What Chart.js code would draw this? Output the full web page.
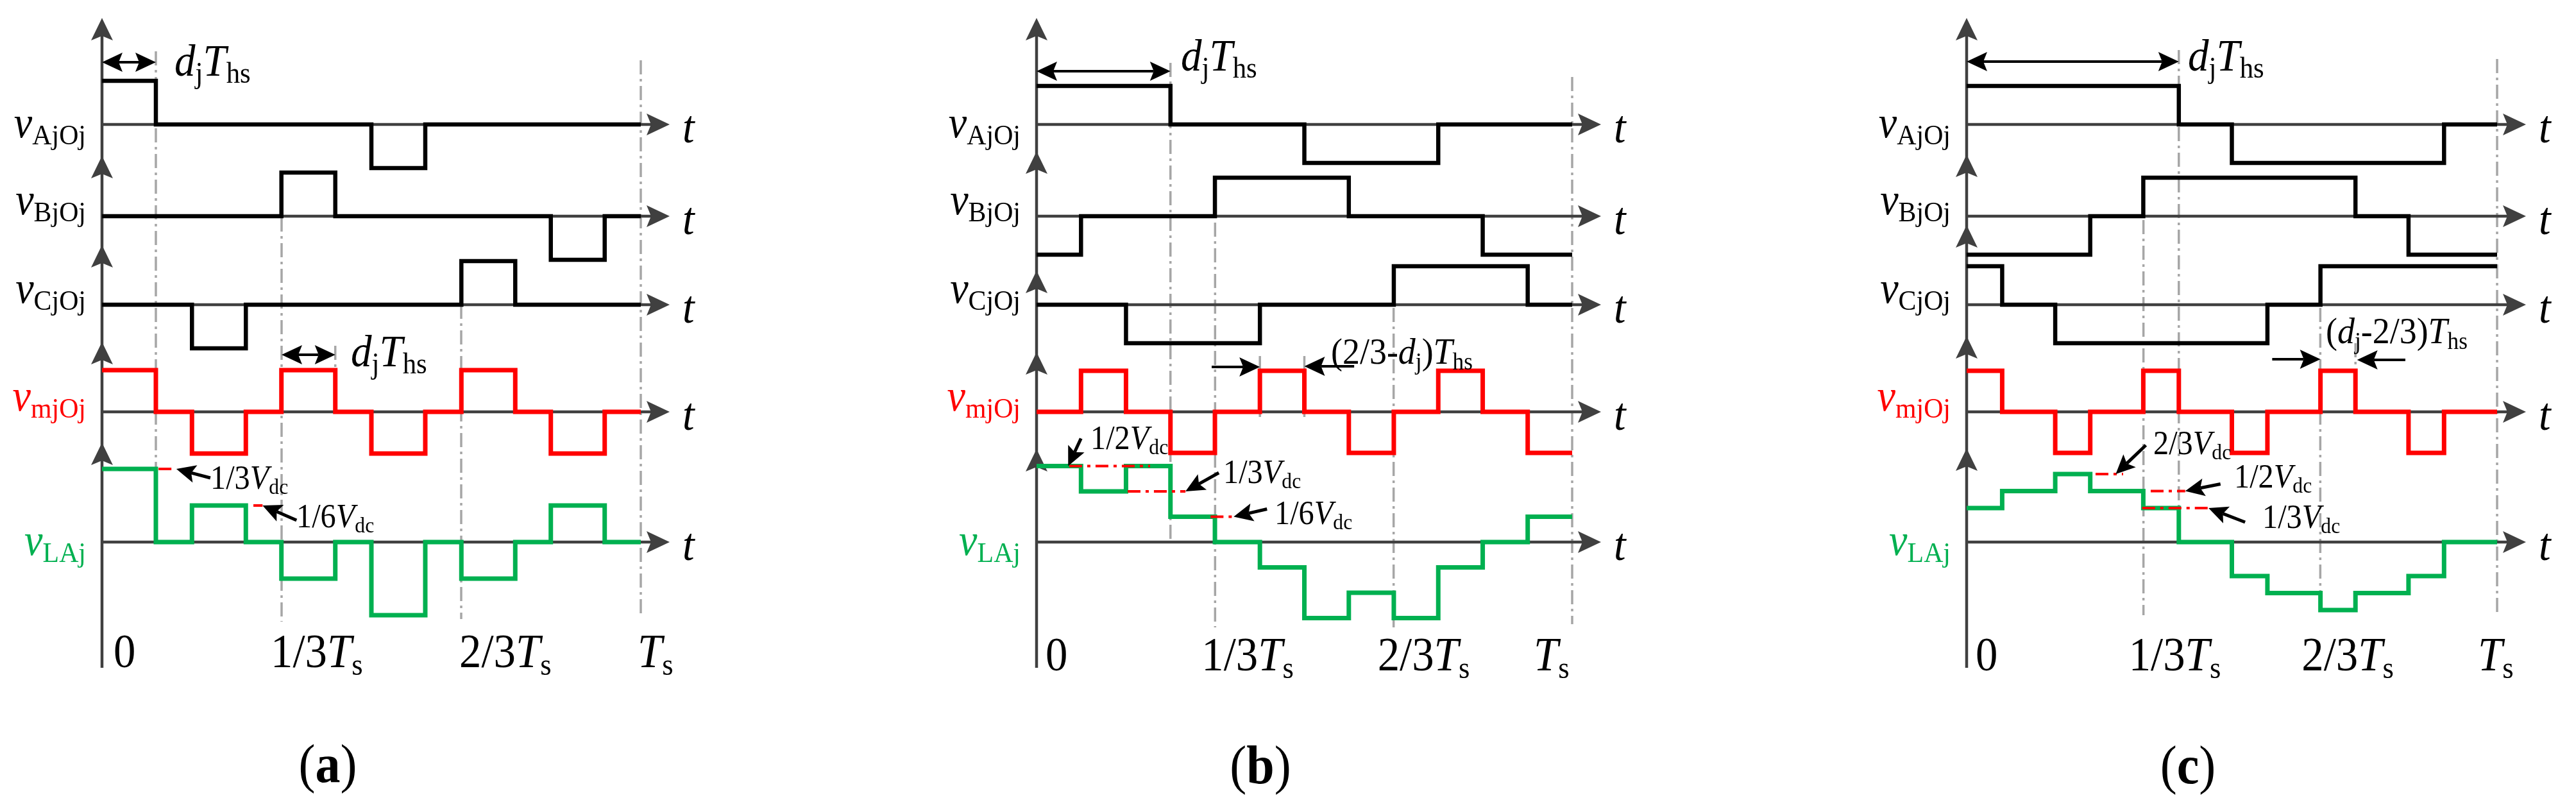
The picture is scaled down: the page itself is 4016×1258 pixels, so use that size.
<!DOCTYPE html>
<html>
<head>
<meta charset="utf-8">
<script src="https://cdn.jsdelivr.net/npm/chart.js@4.4.1/dist/chart.umd.min.js"></script>
<style>
  html, body { margin: 0; padding: 0; background: #fff; overflow: hidden; }
  canvas { position: absolute; top: 0; }
</style>
</head>
<body>
<canvas id="ca" width="1340" height="1258" style="left:0px;width:1340px;height:1258px"></canvas>
<canvas id="cb" width="1340" height="1258" style="left:1340px;width:1340px;height:1258px"></canvas>
<canvas id="cc" width="1336" height="1258" style="left:2680px;width:1336px;height:1258px"></canvas>
<script>
// switching instants (fraction of Ts) and levels (units of Vdc/6)
// (a)
const edges_a = [0, 0.1, 0.167, 0.267, 0.333, 0.433, 0.5, 0.6, 0.667, 0.767, 0.833, 0.933, 1];
const vA_a = [3, 0, 0, 0, 0, 0, -3, 0, 0, 0, 0, 0];
const vB_a = [0, 0, 0, 0, 3, 0, 0, 0, 0, 0, -3, 0];
const vC_a = [0, 0, -3, 0, 0, 0, 0, 0, 3, 0, 0, 0];
const vm_a = [1, 0, -1, 0, 1, 0, -1, 0, 1, 0, -1, 0];
const vL_a = [2, 0, 1, 0, -1, 0, -2, 0, -1, 0, 1, 0];
// (b)
const edges_b = [0, 0.083, 0.167, 0.25, 0.333, 0.417, 0.5, 0.583, 0.667, 0.75, 0.833, 0.917, 1];
const vA_b = [3, 3, 3, 0, 0, 0, -3, -3, -3, 0, 0, 0];
const vB_b = [-3, 0, 0, 0, 3, 3, 3, 0, 0, 0, -3, -3];
const vC_b = [0, 0, -3, -3, -3, 0, 0, 0, 3, 3, 3, 0];
const vm_b = [0, 1, 0, -1, 0, 1, 0, -1, 0, 1, 0, -1];
const vL_b = [3, 2, 3, 1, 0, -1, -3, -2, -3, -1, 0, 1];
// (c)
const edges_c = [0, 0.067, 0.167, 0.233, 0.333, 0.4, 0.5, 0.567, 0.667, 0.733, 0.833, 0.9, 1];
const vA_c = [3, 3, 3, 3, 3, 0, -3, -3, -3, -3, -3, 0];
const vB_c = [-3, -3, -3, 0, 3, 3, 3, 3, 3, 0, -3, -3];
const vC_c = [3, 0, -3, -3, -3, -3, -3, 0, 3, 3, 3, 3];
const vm_c = [1, 0, -1, 0, 1, 0, -1, 0, 1, 0, -1, 0];
const vL_c = [2, 3, 4, 3, 2, 0, -2, -3, -4, -3, -2, 0];

const tickValues = [0, 1/3, 2/3, 1];
const tickLabels = ['0', '1/3*T*{s}', '2/3*T*{s}', '*T*{s}'];
const signalLabels = ['*v*{AjOj}', '*v*{BjOj}', '*v*{CjOj}', '*v*{mjOj}', '*v*{LAj}'];

// layout (page pixels)
const H = 1258;
const BASE = [194, 337, 475, 642, 845];
const LABEL_Y = [214, 334, 472, 640, 865];
const COLORS = ['#000000', '#000000', '#000000', '#ff0000', '#00b050'];
const AXIS = '#404040';
const AXIS_BOTTOM = 1041;
const FONT = '"Liberation Serif", "Times New Roman", serif';
const SQUEEZE = 0.93;

const panels = [
  { id: 'ca', left: 0, width: 1340, x0: 159, x1: 999, black: 22.7, red: 65, green: 57,
    edges: edges_a, series: [vA_a, vB_a, vC_a, vm_a, vL_a],
    tips: [28, 243, 382, 533, 690],
    guides: [[0.1, 80, 845], [1/3, 339, 969], [2/3, 475, 965], [1, 94, 961], [0.433, 539, 580]],
    arrows: [{ t0: 0, t1: 0.1, y: 97, both: true }, { t0: 1/3, t1: 0.433, y: 553, both: true }],
    notes: [{ text: '*d*{j}*T*{hs}', x: 272, y: 118 }, { text: '*d*{j}*T*{hs}', x: 547, y: 571 }],
    levels: [
      { t0: 0.105, t1: 0.138, v: 2, tip: 0.138, dx: 53, dy: 14, text: '1/3*V*{dc}', tx: 328, ty: 762 },
      { t0: 0.281, t1: 0.298, v: 1, tip: 0.298, dx: 53, dy: 23, text: '1/6*V*{dc}', tx: 462, ty: 822 }],
    tickDx: [18, -17, -3, -5], tickY: 1040, caption: '(#a#)', capX: 511, capY: 1219 },
  { id: 'cb', left: 1340, width: 1340, x0: 1616, x1: 2451, black: 20, red: 64, green: 39.5,
    edges: edges_b, series: [vA_b, vB_b, vC_b, vm_b, vL_b],
    tips: [28, 236, 422, 549, 700],
    guides: [[0.25, 98, 843], [1/3, 347, 978], [2/3, 480, 978], [1, 120, 973], [0.417, 555, 650], [0.5, 555, 650]],
    arrows: [{ t0: 0, t1: 0.25, y: 111, both: true }, { t0: 0.327, t1: 0.417, y: 572 }, { t0: 0.593, t1: 0.5, y: 571 }],
    notes: [{ text: '*d*{j}*T*{hs}', x: 1841, y: 110 }, { text: '(2/3-*d*{j})*T*{hs}', x: 2075, y: 567, size: 58 }],
    levels: [
      { t0: 0.061, t1: 0.212, v: 3, tip: 0.059, dx: 20, dy: -43, text: '1/2*V*{dc}', tx: 1700, ty: 700 },
      { t0: 0.170, t1: 0.278, v: 2, tip: 0.278, dx: 52, dy: -29, text: '1/3*V*{dc}', tx: 1907, ty: 753 },
      { t0: 0.325, t1: 0.370, v: 1, tip: 0.368, dx: 52, dy: -12, text: '1/6*V*{dc}', tx: 1987, ty: 817 }],
    tickDx: [14, -21, -25, -60], tickY: 1045, caption: '(#b#)', capX: 1965, capY: 1221 },
  { id: 'cc', left: 2680, width: 1336, x0: 3066, x1: 3893, black: 20, red: 64, green: 26.5,
    edges: edges_c, series: [vA_c, vB_c, vC_c, vm_c, vL_c],
    tips: [28, 241, 351, 524, 699],
    guides: [[0.4, 78, 843], [1/3, 343, 959], [2/3, 480, 952], [1, 92, 955], [0.733, 535, 642]],
    arrows: [{ t0: 0, t1: 0.4, y: 96, both: true }, { t0: 0.576, t1: 0.667, y: 560 }, { t0: 0.827, t1: 0.736, y: 561 }],
    notes: [{ text: '*d*{j}*T*{hs}', x: 3411, y: 110 }, { text: '(*d*{j}-2/3)*T*{hs}', x: 3626, y: 535, size: 58 }],
    levels: [
      { t0: 0.243, t1: 0.295, v: 4, tip: 0.281, dx: 47, dy: -45, text: '2/3*V*{dc}', tx: 3357, ty: 708 },
      { t0: 0.347, t1: 0.412, v: 3, tip: 0.412, dx: 55, dy: -11, text: '1/2*V*{dc}', tx: 3483, ty: 760 },
      { t0: 0.331, t1: 0.456, v: 2, tip: 0.456, dx: 57, dy: 22, text: '1/3*V*{dc}', tx: 3527, ty: 823 }],
    tickDx: [14, -23, -29, -30], tickY: 1045, caption: '(#c#)', capX: 3411, capY: 1221 }
];

// tiny markup: *italic*, {subscript}, #bold#
function parseRuns(src) {
  const runs = [];
  let it = false, sub = false, bold = false, buf = '';
  const flush = () => { if (buf) runs.push({ text: buf, it, sub, bold }); buf = ''; };
  for (const ch of src) {
    if (ch === '*') { flush(); it = !it; }
    else if (ch === '#') { flush(); bold = !bold; }
    else if (ch === '{') { flush(); sub = true; }
    else if (ch === '}') { flush(); sub = false; }
    else buf += ch;
  }
  flush();
  return runs;
}

function drawRich(ctx, src, x, y, size, color, align) {
  const runs = parseRuns(src);
  const fontOf = r => (r.it ? 'italic ' : '') + (r.bold ? 'bold ' : '') +
    Math.round(r.sub ? size * 0.65 : size) + 'px ' + FONT;
  ctx.save();
  ctx.fillStyle = color;
  ctx.textAlign = 'left';
  ctx.textBaseline = 'alphabetic';
  let w = 0;
  runs.forEach(r => { ctx.font = fontOf(r); r.w = ctx.measureText(r.text).width * SQUEEZE; w += r.w; });
  let cx = align === 'right' ? x - w : align === 'center' ? x - w / 2 : x;
  runs.forEach(r => {
    ctx.font = fontOf(r);
    ctx.save();
    ctx.translate(cx, r.sub ? y + size * 0.16 : y);
    ctx.scale(SQUEEZE, 1);
    ctx.fillText(r.text, 0, 0);
    ctx.restore();
    cx += r.w;
  });
  ctx.restore();
}

// filled arrow head pointing from (fx,fy) to the tip (tx,ty); returns the point where a shaft should stop
function head(ctx, fx, fy, tx, ty, len, half, notch) {
  const d = Math.hypot(tx - fx, ty - fy) || 1;
  const ux = (tx - fx) / d, uy = (ty - fy) / d;
  const bx = tx - ux * len, by = ty - uy * len;
  const nx = tx - ux * (len - notch), ny = ty - uy * (len - notch);
  ctx.beginPath();
  ctx.moveTo(tx, ty);
  ctx.lineTo(bx - uy * half, by + ux * half);
  ctx.lineTo(nx, ny);
  ctx.lineTo(bx + uy * half, by - ux * half);
  ctx.closePath();
  ctx.fill();
  return [nx, ny];
}

function arrow(ctx, x1, y1, x2, y2, both, len, half, width) {
  ctx.lineWidth = width;
  let s = [x1, y1];
  if (both) s = head(ctx, x2, y2, x1, y1, len, half, 6);
  const e = head(ctx, x1, y1, x2, y2, len, half, 6);
  ctx.beginPath();
  ctx.moveTo(s[0], s[1]);
  ctx.lineTo(e[0], e[1]);
  ctx.stroke();
}

const Y_IDS = ['yA', 'yB', 'yC', 'yM', 'yL'];

function decor(p) {
  return {
    id: 'decor',
    beforeDatasetsDraw(chart) {
      const ctx = chart.ctx;
      const px = t => chart.scales.x.getPixelForValue(t) + p.left;
      ctx.save();
      ctx.translate(-p.left, 0);
      // dash-dot guides
      ctx.strokeStyle = '#a6a6a6';
      ctx.lineWidth = 3.5;
      ctx.setLineDash([22, 7, 4, 7]);
      p.guides.forEach(([t, y0, y1]) => {
        ctx.beginPath(); ctx.moveTo(px(t), y0); ctx.lineTo(px(t), y1); ctx.stroke();
      });
      ctx.setLineDash([]);
      // axes
      const X0 = px(0), XT = px(1) + 45;
      ctx.strokeStyle = AXIS; ctx.fillStyle = AXIS; ctx.lineWidth = 4.5;
      ctx.beginPath(); ctx.moveTo(X0, AXIS_BOTTOM); ctx.lineTo(X0, p.tips[0] + 20); ctx.stroke();
      p.tips.forEach(ty => head(ctx, X0, ty + 50, X0, ty, 35, 17, 7));
      Y_IDS.forEach(id => {
        const yb = chart.scales[id].getPixelForValue(0);
        ctx.beginPath(); ctx.moveTo(X0, yb); ctx.lineTo(XT - 25, yb); ctx.stroke();
        head(ctx, X0, yb, XT, yb, 36, 17, 7);
      });
      ctx.restore();
    },
    afterDatasetsDraw(chart) {
      const ctx = chart.ctx;
      const px = t => chart.scales.x.getPixelForValue(t) + p.left;
      const yL = v => chart.scales.yL.getPixelForValue(v);
      ctx.save();
      ctx.translate(-p.left, 0);
      // red level markers with pointing arrows
      p.levels.forEach(l => {
        ctx.strokeStyle = '#ff0000';
        ctx.lineWidth = 4;
        ctx.setLineDash([20, 8, 5, 8]);
        ctx.beginPath(); ctx.moveTo(px(l.t0), yL(l.v)); ctx.lineTo(px(l.t1), yL(l.v)); ctx.stroke();
        ctx.setLineDash([]);
        ctx.strokeStyle = '#000'; ctx.fillStyle = '#000';
        const tx = px(l.tip), ty = yL(l.v);
        arrow(ctx, tx + l.dx, ty + l.dy, tx, ty, false, 30, 14, 5);
        drawRich(ctx, l.text, l.tx, l.ty, 52, '#000', 'left');
      });
      // time-span arrows
      ctx.strokeStyle = '#000'; ctx.fillStyle = '#000';
      p.arrows.forEach(a => arrow(ctx, px(a.t0), a.y, px(a.t1), a.y, !!a.both, 32, 15, 4));
      p.notes.forEach(n => drawRich(ctx, n.text, n.x, n.y, n.size || 70, '#000', 'left'));
      // signal names and t
      const X0 = px(0), XT = px(1) + 45;
      signalLabels.forEach((s, i) => {
        drawRich(ctx, s, X0 - 25, LABEL_Y[i], 69, COLORS[i], 'right');
        drawRich(ctx, '*t*', XT + 20, BASE[i] + 28, 72, '#000', 'left');
      });
      // time ticks
      tickLabels.forEach((s, i) => drawRich(ctx, s, px(tickValues[i]) + p.tickDx[i], p.tickY, 74, '#000', 'left'));
      drawRich(ctx, p.caption, p.capX, p.capY, 84, '#000', 'center');
      ctx.restore();
    }
  };
}

function buildChart(p) {
  const W = p.width;
  const span = p.x1 - p.x0;
  const xMin = -(p.x0 - p.left) / span;
  const scales = { x: { type: 'linear', display: false, bounds: 'data', min: xMin, max: xMin + W / span } };
  const perUnit = [p.black, p.black, p.black, p.red, p.green];
  Y_IDS.forEach((id, i) => {
    scales[id] = { type: 'linear', display: false, bounds: 'data',
      min: -(H - BASE[i]) / perUnit[i], max: BASE[i] / perUnit[i] };
  });
  const datasets = p.series.map((vals, i) => ({
    data: p.edges.map((t, k) => ({ x: t, y: vals[Math.min(k, vals.length - 1)] })),
    yAxisID: Y_IDS[i],
    borderColor: COLORS[i],
    borderWidth: i < 3 ? 6.5 : 7,
    stepped: 'before',
    pointRadius: 0,
    fill: false,
    tension: 0,
    borderJoinStyle: 'miter',
    borderCapStyle: 'butt'
  }));
  return new Chart(document.getElementById(p.id), {
    type: 'line',
    data: { datasets },
    options: {
      responsive: false,
      animation: false,
      events: [],
      layout: { padding: 0 },
      scales,
      plugins: { legend: { display: false }, tooltip: { enabled: false } }
    },
    plugins: [decor(p)]
  });
}

panels.forEach(buildChart);
</script>
</body>
</html>
